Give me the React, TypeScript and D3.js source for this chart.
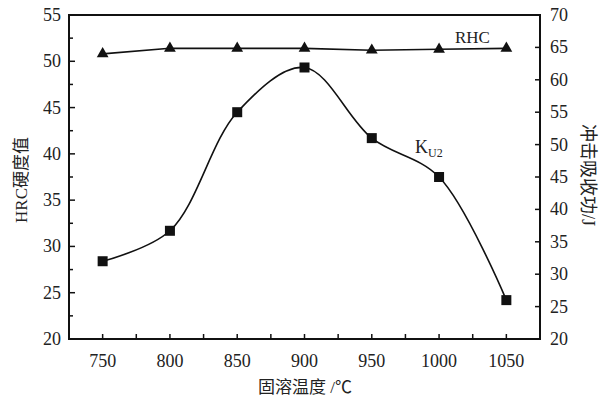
import React from "react";
import * as d3 from "d3";

const temps = [750, 800, 850, 900, 950, 1000, 1050];
const rhc = [50.8, 51.4, 51.4, 51.4, 51.2, 51.3, 51.4];
const ku2 = [32, 36.7, 55, 61.9, 51, 45, 26];
const xTicks = [750, 800, 850, 900, 950, 1000, 1050];
const xMinor = [775, 825, 875, 925, 975, 1025];
const leftTicks = [20, 25, 30, 35, 40, 45, 50, 55];
const leftMinor = [22.5, 27.5, 32.5, 37.5, 42.5, 47.5, 52.5];
const rightTicks = [20, 25, 30, 35, 40, 45, 50, 55, 60, 65, 70];

const W = 611, H = 401;
const L = 69, R = 540, T = 15, B = 339;
const FONT = "'Liberation Serif', 'Noto Sans CJK SC', serif";

export default function App() {
  const x = d3.scaleLinear().domain([725, 1075]).range([L, R]);
  const yL = d3.scaleLinear().domain([20, 55]).range([B, T]);
  const yR = d3.scaleLinear().domain([20, 70]).range([B, T]);

  const rhcLine = d3.line<number>().x((_, i) => x(temps[i])).y((d) => yL(d))(rhc) || "";
  const kuLine = d3
    .line<number>()
    .x((_, i) => x(temps[i]))
    .y((d) => yR(d))
    .curve(d3.curveCatmullRom.alpha(0.5))(ku2) || "";

  const tri = d3.symbol(d3.symbolTriangle, 60)() || "";

  return (
    <svg
      width={W}
      height={H}
      style={{ position: "absolute", left: 0, top: 0, background: "#fff" }}
      fontFamily={FONT}
    >
      <rect width={W} height={H} fill="#fff" />
      {/* frame */}
      <rect x={L} y={T} width={R - L} height={B - T} fill="none" stroke="#111" strokeWidth={2} />
      {/* x ticks */}
      {xTicks.map((t) => (
        <g key={"xt" + t}>
          <line x1={x(t)} x2={x(t)} y1={B} y2={B - 5} stroke="#111" strokeWidth={1.5} />
          <text x={x(t)} y={B + 28} fontSize={18} textAnchor="middle" fill="#222">
            {t}
          </text>
        </g>
      ))}
      {xMinor.map((t) => (
        <line key={"xm" + t} x1={x(t)} x2={x(t)} y1={B} y2={B - 5} stroke="#111" strokeWidth={1.5} />
      ))}
      {/* left ticks */}
      {leftTicks.map((t) => (
        <g key={"lt" + t}>
          <line x1={L} x2={L + 6} y1={yL(t)} y2={yL(t)} stroke="#111" strokeWidth={1.5} />
          <text x={L - 8} y={yL(t) + 6} fontSize={18} textAnchor="end" fill="#222">
            {t}
          </text>
        </g>
      ))}
      {leftMinor.map((t) => (
        <line key={"lm" + t} x1={L} x2={L + 4} y1={yL(t)} y2={yL(t)} stroke="#111" strokeWidth={1.5} />
      ))}
      {/* right ticks */}
      {rightTicks.map((t) => (
        <g key={"rt" + t}>
          <line x1={R} x2={R - 5} y1={yR(t)} y2={yR(t)} stroke="#111" strokeWidth={1.5} />
          <text x={R + 10} y={yR(t) + 6} fontSize={18} textAnchor="start" fill="#222">
            {t}
          </text>
        </g>
      ))}
      {/* axis titles */}
      <text
        transform={`translate(27, 180) rotate(-90)`}
        fontSize={17}
        textAnchor="middle"
        fill="#222"
      >
        HRC硬度值
      </text>
      <text
        transform={`translate(582, 175) rotate(90)`}
        fontSize={18}
        textAnchor="middle"
        fill="#222"
      >
        冲击吸收功/J
      </text>
      <text x={305} y={393} fontSize={17} textAnchor="middle" fill="#222">
        固溶温度 /℃
      </text>
      {/* series */}
      <path d={rhcLine} fill="none" stroke="#111" strokeWidth={1.6} />
      <path d={kuLine} fill="none" stroke="#111" strokeWidth={1.6} />
      {rhc.map((d, i) => (
        <path key={"tr" + i} d={tri} transform={`translate(${x(temps[i])},${yL(d)})`} fill="#111" />
      ))}
      {ku2.map((d, i) => (
        <rect key={"sq" + i} x={x(temps[i]) - 5} y={yR(d) - 5} width={10} height={10} fill="#111" />
      ))}
      {/* labels */}
      <text x={455} y={43} fontSize={17} fill="#222">
        RHC
      </text>
      <text x={415} y={153} fontSize={18} fill="#222">
        K
        <tspan fontSize={12} dy={4}>U2</tspan>
      </text>
    </svg>
  );
}
